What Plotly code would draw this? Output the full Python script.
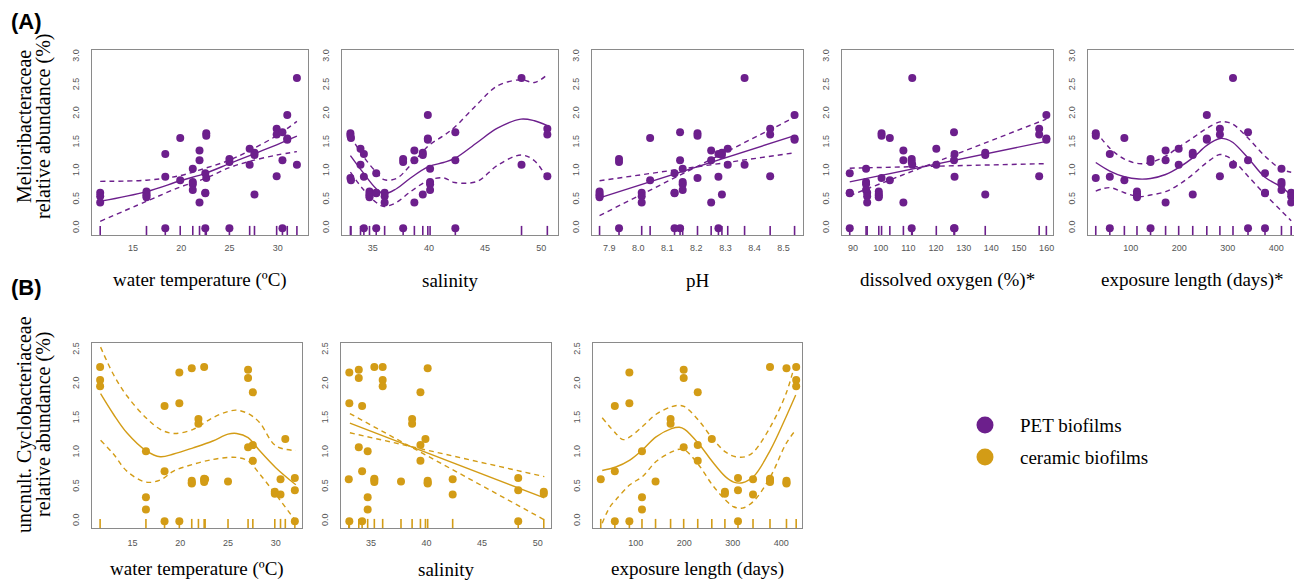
import plotly.graph_objects as go

# ---------------- data: 15 sampling events ----------------
exposure_days = [28, 57, 87, 113, 141, 172, 199, 228, 257, 284, 311, 342, 377, 411, 431]
water_temp = [22.6, 18.35, 19.9, 16.4, 25.0, 21.9, 27.1, 27.6, 31.0, 29.9, 32.0, 30.5, 22.5, 21.2, 11.6]
salinity = [33.0, 34.2, 33.05, 34.7, 37.7, 38.7, 33.9, 39.45, 39.9, 50.55, 48.25, 42.35, 35.3, 40.1, 36.05]
ph_values = [8.204, 8.276, 8.041, 7.867, 7.934, 8.251, 8.308, 8.288, 8.538, 8.454, 8.366, 8.144, 8.125, 8.153, 8.012]
dissolved_oxygen = [100.3, 126.7, 103.3, 99.3, 111.2, 108.2, 120.1, 137.8, 159.9, 157.3, 111.4, 126.5, 88.8, 94.7, 95.1]

pet_abundance = [
    [1.66, 1.62, 0.88], [1.30, 0.90, 0.0], [1.58, 0.84], [0.64, 0.60, 0.57, 0.54],
    [1.21, 1.16, 0.0], [1.36, 1.19, 0.45], [1.39, 1.11], [1.32, 1.28, 0.59],
    [1.98, 1.57, 1.55], [1.74, 1.64, 0.91], [2.63, 1.11], [1.68, 1.19, 0.0],
    [0.96, 0.62, 0.61, 0.0], [1.04, 0.81, 0.77, 0.67], [0.62, 0.56, 0.45],
]
ceramic_abundance = [
    [0.61], [1.68, 0.73, 0.0], [2.17, 1.72, 0.0], [1.02, 0.35, 0.17],
    [0.58], [1.49, 1.42], [2.21, 2.09, 1.08], [1.88, 1.11, 0.88],
    [1.20], [0.43, 0.40], [0.63, 0.45, 0.0], [0.61, 0.39],
    [2.25, 0.62, 0.60, 0.57], [2.23, 0.59, 0.56, 0.55], [2.25, 2.06, 1.97],
]

# ---------------- fitted curves ----------------
pet_temp_x = [11.6, 16.4, 19.9, 22.5, 25.0, 27.1, 29.9, 32.0]
pet_temp_fit = [0.47, 0.64, 0.83, 0.96, 1.13, 1.27, 1.46, 1.61]
pet_temp_up = [0.82, 0.84, 0.92, 1.05, 1.19, 1.36, 1.62, 1.87]
pet_temp_lo = [0.12, 0.47, 0.72, 0.87, 1.06, 1.17, 1.28, 1.34]

pet_sal_x = [33.0, 34.1, 35.3, 36.0, 37.1, 38.3, 40.0, 41.3, 42.3, 44.3, 46.1, 48.2, 49.4, 50.5]
pet_sal_fit = [1.27, 0.98, 0.69, 0.60, 0.69, 0.87, 1.08, 1.15, 1.22, 1.50, 1.75, 1.91, 1.88, 1.80]
pet_sal_up = [1.62, 1.27, 0.98, 0.85, 0.87, 1.09, 1.45, 1.62, 1.77, 2.17, 2.49, 2.60, 2.55, 2.68]
pet_sal_lo = [0.98, 0.69, 0.45, 0.38, 0.45, 0.63, 0.84, 0.88, 0.80, 0.82, 1.10, 1.28, 1.18, 0.88]

pet_ph_x = [7.867, 8.538]
pet_ph_fit = [0.53, 1.62]
pet_ph_a = [0.83, 1.32]
pet_ph_b = [0.22, 1.94]

pet_do_x = [88.8, 159.9]
pet_do_fit = [0.81, 1.52]
pet_do_a = [1.05, 1.13]
pet_do_b = [0.57, 1.91]

pet_exp_x = [28, 57, 87, 117, 141, 172, 199, 228, 257, 284, 297, 311, 342, 377, 411, 431]
pet_exp_fit = [1.15, 1.00, 0.90, 0.86, 0.87, 0.94, 1.06, 1.23, 1.45, 1.57, 1.56, 1.50, 1.23, 0.89, 0.72, 0.57]
pet_exp_up = [1.70, 1.40, 1.21, 1.13, 1.15, 1.26, 1.42, 1.58, 1.75, 1.86, 1.86, 1.82, 1.58, 1.26, 1.03, 0.98]
pet_exp_lo = [0.65, 0.71, 0.62, 0.55, 0.58, 0.64, 0.76, 0.94, 1.15, 1.29, 1.26, 1.19, 0.91, 0.59, 0.30, 0.13]

cer_temp_x = [11.65, 13.0, 14.4, 16.4, 17.9, 19.3, 21.35, 23.4, 25.0, 25.9, 27.1, 28.3, 30.0, 32.1]
cer_temp_fit = [1.86, 1.56, 1.29, 1.03, 0.94, 0.98, 1.07, 1.17, 1.27, 1.28, 1.22, 1.03, 0.78, 0.53]
cer_temp_up = [2.54, 2.14, 1.83, 1.51, 1.34, 1.28, 1.34, 1.51, 1.60, 1.62, 1.57, 1.44, 1.10, 1.03]
cer_temp_lo = [1.18, 0.98, 0.73, 0.57, 0.60, 0.73, 0.83, 0.90, 0.93, 0.93, 0.88, 0.69, 0.39, 0.0]

cer_sal_x = [33.1, 50.6]
cer_sal_fit = [1.43, 0.34]
cer_sal_a = [1.57, 0.02]
cer_sal_b = [1.29, 0.65]

cer_exp_x = [31, 59, 88, 114, 142, 174, 190, 201, 230, 258, 285, 302, 320, 343, 378, 410, 430]
cer_exp_fit = [0.74, 0.79, 0.89, 1.04, 1.23, 1.35, 1.37, 1.34, 1.13, 0.87, 0.65, 0.57, 0.56, 0.65, 1.04, 1.52, 1.84]
cer_exp_up_x = [31, 59, 74, 88, 114, 142, 174, 190, 201, 230, 258, 285, 306, 326, 343, 378, 410, 430]
cer_exp_up = [1.51, 1.28, 1.19, 1.23, 1.38, 1.56, 1.67, 1.69, 1.67, 1.47, 1.21, 1.01, 0.94, 0.94, 1.01, 1.38, 1.86, 2.34]
cer_exp_lo_x = [31, 47, 59, 88, 114, 142, 174, 190, 201, 230, 258, 285, 302, 320, 343, 378, 410, 430]
cer_exp_lo = [-0.03, 0.21, 0.31, 0.53, 0.65, 0.87, 1.01, 1.05, 1.04, 0.82, 0.53, 0.31, 0.21, 0.19, 0.29, 0.65, 1.13, 1.33]

x_titles_a = ["water temperature (ºC)", "salinity", "pH", "dissolved oxygen (%)*", "exposure length (days)*"]
x_titles_b = ["water temperature (ºC)", "salinity", "exposure length (days)"]

PURPLE = "#6c1f8c"
GOLD = "#d39c16"

# the page body adds an 8 px margin; lay out in window pixels and compensate
OFF = 8
W, H = 1302 - OFF, 583 - OFF


def fx(px):
    return (px - OFF) / W


def fy(py):
    return 1 - (py - OFF) / H


def flat(var, ab):
    xs, ys = [], []
    for v, group in zip(var, ab):
        for a in group:
            xs.append(v)
            ys.append(a)
    return xs, ys


fig = go.Figure()

YT_A = [0, 0.5, 1, 1.5, 2, 2.5, 3]
YT_B = [0, 0.5, 1, 1.5, 2, 2.5]
# panel geometry (window pixels): left, right, top, bottom
panels = [
    dict(px=(92, 308), py=(50, 235), xr=[10.75, 33.15], yr=[-0.12, 3.12], dt=[15, 20, 25, 30], fmt="", yt=YT_A),
    dict(px=(342, 558), py=(50, 235), xr=[32.25, 51.5], yr=[-0.12, 3.12], dt=[35, 40, 45, 50], fmt="", yt=YT_A),
    dict(px=(592, 803), py=(50, 235), xr=[7.841, 8.567], yr=[-0.12, 3.12], dt=[7.9, 8.0, 8.1, 8.2, 8.3, 8.4, 8.5], fmt=".1f", yt=YT_A),
    dict(px=(842, 1053), py=(50, 235), xr=[86.0, 162.3], yr=[-0.12, 3.12], dt=[90, 100, 110, 120, 130, 140, 150, 160], fmt="", yt=YT_A),
    dict(px=(1088, 1297), py=(50, 235), xr=[12, 443], yr=[-0.12, 3.12], dt=[100, 200, 300, 400], fmt="", yt=YT_A),
    dict(px=(92, 302), py=(343, 528), xr=[10.75, 32.75], yr=[-0.1, 2.6], dt=[15, 20, 25, 30], fmt="", yt=YT_B),
    dict(px=(341, 551), py=(343, 528), xr=[32.3, 51.2], yr=[-0.1, 2.6], dt=[35, 40, 45, 50], fmt="", yt=YT_B),
    dict(px=(593, 802), py=(343, 528), xr=[12, 443], yr=[-0.1, 2.6], dt=[100, 200, 300, 400], fmt="", yt=YT_B),
]

variables = [water_temp, salinity, ph_values, dissolved_oxygen, exposure_days,
             water_temp, salinity, exposure_days]
curves = [
    [(pet_temp_x, pet_temp_fit, "solid"), (pet_temp_x, pet_temp_up, "dash"), (pet_temp_x, pet_temp_lo, "dash")],
    [(pet_sal_x, pet_sal_fit, "solid"), (pet_sal_x, pet_sal_up, "dash"), (pet_sal_x, pet_sal_lo, "dash")],
    [(pet_ph_x, pet_ph_fit, "solid"), (pet_ph_x, pet_ph_a, "dash"), (pet_ph_x, pet_ph_b, "dash")],
    [(pet_do_x, pet_do_fit, "solid"), (pet_do_x, pet_do_a, "dash"), (pet_do_x, pet_do_b, "dash")],
    [(pet_exp_x, pet_exp_fit, "solid"), (pet_exp_x, pet_exp_up, "dash"), (pet_exp_x, pet_exp_lo, "dash")],
    [(cer_temp_x, cer_temp_fit, "solid"), (cer_temp_x, cer_temp_up, "dash"), (cer_temp_x, cer_temp_lo, "dash")],
    [(cer_sal_x, cer_sal_fit, "solid"), (cer_sal_x, cer_sal_a, "dash"), (cer_sal_x, cer_sal_b, "dash")],
    [(cer_exp_x, cer_exp_fit, "solid"), (cer_exp_up_x, cer_exp_up, "dash"), (cer_exp_lo_x, cer_exp_lo, "dash")],
]

tickfont = dict(family="Liberation Sans, Arial", size=9, color="#555")
layout = dict(width=W, height=H, margin=dict(l=0, r=0, t=0, b=0),
              paper_bgcolor="white", plot_bgcolor="white", showlegend=False)

for i, p in enumerate(panels):
    n = i + 1
    xa = "x" if n == 1 else f"x{n}"
    ya = "y" if n == 1 else f"y{n}"
    color = PURPLE if i < 5 else GOLD
    ab = pet_abundance if i < 5 else ceramic_abundance
    var = variables[i]
    for cx, cy, dash in curves[i]:
        fig.add_trace(go.Scatter(x=cx, y=cy, mode="lines", xaxis=xa, yaxis=ya,
                                 line=dict(color=color, width=1.4, shape="spline", smoothing=1.0,
                                           dash="solid" if dash == "solid" else "5px,4px"),
                                 hoverinfo="skip"))
    xs, ys = flat(var, ab)
    fig.add_trace(go.Scatter(x=xs, y=ys, mode="markers", xaxis=xa, yaxis=ya,
                             marker=dict(color=color, size=8, line=dict(width=0))))
    # rug along the bottom edge
    fig.add_trace(go.Scatter(x=var, y=[p["yr"][0]] * len(var), mode="markers", xaxis=xa, yaxis=ya,
                             marker=dict(symbol="line-ns", size=13, line=dict(width=1.6, color=color)),
                             cliponaxis=True, hoverinfo="skip"))
    xkey = "xaxis" if n == 1 else f"xaxis{n}"
    ykey = "yaxis" if n == 1 else f"yaxis{n}"
    layout[xkey] = dict(domain=[fx(p["px"][0]), fx(p["px"][1])], anchor=ya, range=p["xr"], tickvals=p["dt"],
                        tickformat=p["fmt"], showgrid=False, zeroline=False,
                        showline=True, mirror=True, linecolor="#8a8a8a", linewidth=1,
                        ticks="", tickfont=tickfont, ticklabelstandoff=4 if i < 5 else 6)
    layout[ykey] = dict(domain=[fy(p["py"][1]), fy(p["py"][0])], anchor=xa, range=p["yr"], tickvals=p["yt"],
                        tickformat=".1f", showgrid=False, zeroline=False, showline=True, mirror=True,
                        linecolor="#8a8a8a", linewidth=1, ticks="", tickfont=tickfont,
                        tickangle=-90, ticklabelstandoff=8)

serif = "Liberation Serif, Times New Roman, serif"
ann = []
for lab, yc in [("(A)", 22), ("(B)", 287)]:
    ann.append(dict(text=f"<b>{lab}</b>", x=fx(9), y=fy(yc), xref="paper", yref="paper",
                    xanchor="left", yanchor="middle", showarrow=False,
                    font=dict(family="Liberation Sans, Arial", size=22, color="black")))
for txt, xc, yc in [("Melioribacteraceae", 24, 127), ("relative abundance (%)", 43, 127),
                    ("uncnult. Cyclobacteriaceae", 24, 425), ("relative abundance (%)", 43, 425)]:
    ann.append(dict(text=txt, x=fx(xc), y=fy(yc), xref="paper", yref="paper",
                    xanchor="center", yanchor="middle", textangle=-90, showarrow=False,
                    font=dict(family=serif, size=20, color="black")))
for i, t in enumerate(x_titles_a):
    p = panels[i]
    ann.append(dict(text=t, x=fx((p["px"][0] + p["px"][1]) / 2), y=fy(280), xref="paper", yref="paper",
                    xanchor="center", yanchor="middle", showarrow=False,
                    font=dict(family=serif, size=19, color="black")))
for i, t in enumerate(x_titles_b):
    p = panels[5 + i]
    ann.append(dict(text=t, x=fx((p["px"][0] + p["px"][1]) / 2), y=fy(569), xref="paper", yref="paper",
                    xanchor="center", yanchor="middle", showarrow=False,
                    font=dict(family=serif, size=19, color="black")))

legend_items = [("PET biofilms", PURPLE, 425), ("ceramic biofilms", GOLD, 457)]
shapes = []
for lab, col, yc in legend_items:
    shapes.append(dict(type="circle", xref="paper", yref="paper", xsizemode="pixel", ysizemode="pixel",
                       xanchor=fx(985), yanchor=fy(yc), x0=-8.5, x1=8.5, y0=-8.5, y1=8.5,
                       fillcolor=col, line=dict(width=0)))
    ann.append(dict(text=lab, x=fx(1018), y=fy(yc), xref="paper", yref="paper",
                    xanchor="left", yanchor="middle", showarrow=False,
                    font=dict(family=serif, size=19, color="black")))

layout["annotations"] = ann
layout["shapes"] = shapes
fig.update_layout(**layout)
fig.write_html("out.html")
